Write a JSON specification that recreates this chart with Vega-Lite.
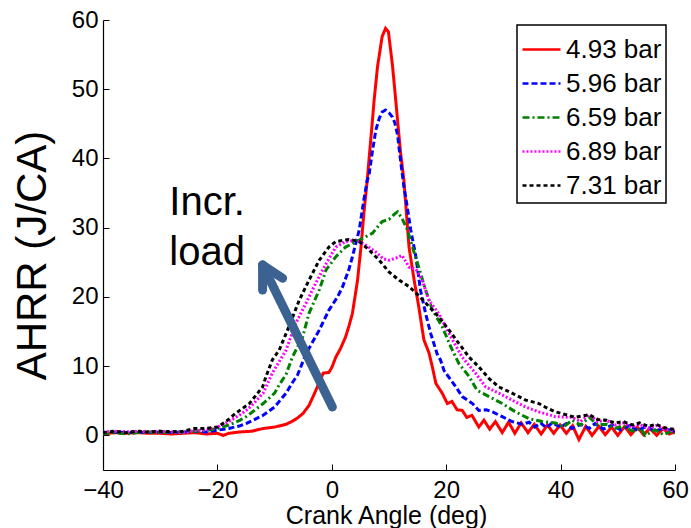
{
  "$schema": "https://vega.github.io/schema/vega-lite/v6.json",
  "width": 572,
  "height": 450,
  "autosize": {"type": "none"},
  "padding": {"left": 103, "top": 20, "right": 16, "bottom": 58},
  "background": "white",
  "config": {
    "font": "Liberation Sans",
    "view": {"stroke": null},
    "axis": {
      "domainColor": "black",
      "domainWidth": 1.2,
      "tickColor": "black",
      "tickSize": -6,
      "grid": false,
      "labelColor": "black",
      "labelFontSize": 24,
      "labelFont": "Liberation Sans",
      "titleFont": "Liberation Sans",
      "titleFontWeight": "normal",
      "titleColor": "black"
    },
    "legend": {
      "orient": "none",
      "legendX": 414,
      "legendY": 5,
      "strokeColor": "black",
      "strokeWidth": 1.5,
      "fillColor": "white",
      "padding": 4,
      "symbolType": "stroke",
      "symbolSize": 1444,
      "symbolStrokeWidth": 2.5,
      "labelFontSize": 26,
      "labelFont": "Liberation Sans",
      "labelColor": "black",
      "labelOffset": 4,
      "rowPadding": -1
    }
  },
  "datasets": {
    "curves": [
      {"s": "4.93 bar", "x": -40, "y": 0.2}, {"s": "4.93 bar", "x": -38, "y": 0.4}, {"s": "4.93 bar", "x": -36, "y": 0.3}, {"s": "4.93 bar", "x": -34, "y": 0.4}, {"s": "4.93 bar", "x": -32, "y": 0.3}, {"s": "4.93 bar", "x": -30, "y": 0.3}, {"s": "4.93 bar", "x": -28, "y": 0.2}, {"s": "4.93 bar", "x": -26, "y": 0.3}, {"s": "4.93 bar", "x": -24, "y": 0.4}, {"s": "4.93 bar", "x": -22, "y": 0.2}, {"s": "4.93 bar", "x": -20, "y": 0.3}, {"s": "4.93 bar", "x": -19, "y": 0.0}, {"s": "4.93 bar", "x": -18, "y": 0.3}, {"s": "4.93 bar", "x": -16, "y": 0.5}, {"s": "4.93 bar", "x": -14, "y": 0.6}, {"s": "4.93 bar", "x": -12, "y": 1.0}, {"s": "4.93 bar", "x": -10, "y": 1.2}, {"s": "4.93 bar", "x": -8, "y": 1.6}, {"s": "4.93 bar", "x": -7, "y": 2.0}, {"s": "4.93 bar", "x": -6, "y": 2.5}, {"s": "4.93 bar", "x": -5, "y": 3.2}, {"s": "4.93 bar", "x": -4, "y": 4.3}, {"s": "4.93 bar", "x": -3, "y": 6.1}, {"s": "4.93 bar", "x": -2, "y": 8.0}, {"s": "4.93 bar", "x": -1.5, "y": 9.0}, {"s": "4.93 bar", "x": -0.5, "y": 9.1}, {"s": "4.93 bar", "x": 0, "y": 9.8}, {"s": "4.93 bar", "x": 0.7, "y": 11.3}, {"s": "4.93 bar", "x": 1.5, "y": 12.5}, {"s": "4.93 bar", "x": 2.4, "y": 14.2}, {"s": "4.93 bar", "x": 3.0, "y": 15.8}, {"s": "4.93 bar", "x": 3.6, "y": 17.6}, {"s": "4.93 bar", "x": 4.5, "y": 22.4}, {"s": "4.93 bar", "x": 5.1, "y": 27.2}, {"s": "4.93 bar", "x": 5.6, "y": 32}, {"s": "4.93 bar", "x": 6.2, "y": 36.9}, {"s": "4.93 bar", "x": 6.5, "y": 39.8}, {"s": "4.93 bar", "x": 7.0, "y": 44.5}, {"s": "4.93 bar", "x": 7.4, "y": 48.4}, {"s": "4.93 bar", "x": 8.0, "y": 53.3}, {"s": "4.93 bar", "x": 8.8, "y": 57.6}, {"s": "4.93 bar", "x": 9.4, "y": 58.8}, {"s": "4.93 bar", "x": 9.9, "y": 58.3}, {"s": "4.93 bar", "x": 10.6, "y": 53.5}, {"s": "4.93 bar", "x": 11.0, "y": 50.0}, {"s": "4.93 bar", "x": 11.5, "y": 45.5}, {"s": "4.93 bar", "x": 12.0, "y": 41.0}, {"s": "4.93 bar", "x": 12.6, "y": 36.9}, {"s": "4.93 bar", "x": 13.5, "y": 27.2}, {"s": "4.93 bar", "x": 14.4, "y": 22.4}, {"s": "4.93 bar", "x": 15.2, "y": 18.6}, {"s": "4.93 bar", "x": 16.1, "y": 13.8}, {"s": "4.93 bar", "x": 17.0, "y": 11.9}, {"s": "4.93 bar", "x": 17.6, "y": 9.8}, {"s": "4.93 bar", "x": 18.2, "y": 7.5}, {"s": "4.93 bar", "x": 19.3, "y": 6.1}, {"s": "4.93 bar", "x": 20.2, "y": 4.6}, {"s": "4.93 bar", "x": 21.0, "y": 4.9}, {"s": "4.93 bar", "x": 21.9, "y": 3.7}, {"s": "4.93 bar", "x": 22.8, "y": 3.6}, {"s": "4.93 bar", "x": 23.6, "y": 2.6}, {"s": "4.93 bar", "x": 24.5, "y": 2.9}, {"s": "4.93 bar", "x": 25.7, "y": 1.2}, {"s": "4.93 bar", "x": 26.6, "y": 2.2}, {"s": "4.93 bar", "x": 27.6, "y": 0.9}, {"s": "4.93 bar", "x": 28.6, "y": 2.0}, {"s": "4.93 bar", "x": 29.8, "y": 0.4}, {"s": "4.93 bar", "x": 30.9, "y": 1.9}, {"s": "4.93 bar", "x": 32.0, "y": 0.3}, {"s": "4.93 bar", "x": 33.1, "y": 1.8}, {"s": "4.93 bar", "x": 34.3, "y": 0.4}, {"s": "4.93 bar", "x": 35.4, "y": 1.6}, {"s": "4.93 bar", "x": 36.6, "y": 0.2}, {"s": "4.93 bar", "x": 37.7, "y": 1.5}, {"s": "4.93 bar", "x": 38.8, "y": 0.3}, {"s": "4.93 bar", "x": 39.9, "y": 1.5}, {"s": "4.93 bar", "x": 41.0, "y": 0.3}, {"s": "4.93 bar", "x": 42.1, "y": 1.4}, {"s": "4.93 bar", "x": 43.2, "y": -0.6}, {"s": "4.93 bar", "x": 44.4, "y": 1.3}, {"s": "4.93 bar", "x": 45.5, "y": 0.0}, {"s": "4.93 bar", "x": 46.7, "y": 1.3}, {"s": "4.93 bar", "x": 47.8, "y": 0.1}, {"s": "4.93 bar", "x": 48.9, "y": 1.2}, {"s": "4.93 bar", "x": 50.0, "y": 0.0}, {"s": "4.93 bar", "x": 51.2, "y": 1.3}, {"s": "4.93 bar", "x": 52.3, "y": 0.1}, {"s": "4.93 bar", "x": 53.4, "y": 1.2}, {"s": "4.93 bar", "x": 54.5, "y": 0.1}, {"s": "4.93 bar", "x": 55.6, "y": 1.0}, {"s": "4.93 bar", "x": 56.8, "y": 0.0}, {"s": "4.93 bar", "x": 57.9, "y": 1.0}, {"s": "4.93 bar", "x": 59.0, "y": 0.2}, {"s": "4.93 bar", "x": 60, "y": 0.5},

      {"s": "5.96 bar", "x": -40, "y": 0.3}, {"s": "5.96 bar", "x": -38, "y": 0.5}, {"s": "5.96 bar", "x": -36, "y": 0.4}, {"s": "5.96 bar", "x": -34, "y": 0.5}, {"s": "5.96 bar", "x": -32, "y": 0.4}, {"s": "5.96 bar", "x": -30, "y": 0.5}, {"s": "5.96 bar", "x": -28, "y": 0.4}, {"s": "5.96 bar", "x": -26, "y": 0.5}, {"s": "5.96 bar", "x": -24, "y": 0.6}, {"s": "5.96 bar", "x": -22, "y": 0.5}, {"s": "5.96 bar", "x": -20, "y": 0.75}, {"s": "5.96 bar", "x": -18, "y": 1.0}, {"s": "5.96 bar", "x": -16, "y": 1.4}, {"s": "5.96 bar", "x": -15, "y": 1.7}, {"s": "5.96 bar", "x": -14, "y": 2.1}, {"s": "5.96 bar", "x": -12, "y": 2.9}, {"s": "5.96 bar", "x": -10, "y": 4.1}, {"s": "5.96 bar", "x": -8, "y": 6.1}, {"s": "5.96 bar", "x": -6.9, "y": 7.6}, {"s": "5.96 bar", "x": -6, "y": 8.7}, {"s": "5.96 bar", "x": -4.5, "y": 11.8}, {"s": "5.96 bar", "x": -2.2, "y": 15.2}, {"s": "5.96 bar", "x": -0.5, "y": 18.1}, {"s": "5.96 bar", "x": 1.0, "y": 20.0}, {"s": "5.96 bar", "x": 1.9, "y": 21.5}, {"s": "5.96 bar", "x": 3.0, "y": 24.0}, {"s": "5.96 bar", "x": 3.6, "y": 25.8}, {"s": "5.96 bar", "x": 4.8, "y": 29.7}, {"s": "5.96 bar", "x": 5.6, "y": 34}, {"s": "5.96 bar", "x": 6.2, "y": 36.9}, {"s": "5.96 bar", "x": 6.5, "y": 37.5}, {"s": "5.96 bar", "x": 7.0, "y": 40.5}, {"s": "5.96 bar", "x": 7.7, "y": 44.1}, {"s": "5.96 bar", "x": 8.3, "y": 45.8}, {"s": "5.96 bar", "x": 8.8, "y": 46.7}, {"s": "5.96 bar", "x": 9.4, "y": 47.0}, {"s": "5.96 bar", "x": 10.0, "y": 46.6}, {"s": "5.96 bar", "x": 10.6, "y": 46.0}, {"s": "5.96 bar", "x": 11.0, "y": 45.2}, {"s": "5.96 bar", "x": 11.5, "y": 43.4}, {"s": "5.96 bar", "x": 11.8, "y": 41.2}, {"s": "5.96 bar", "x": 12.6, "y": 35.9}, {"s": "5.96 bar", "x": 13.0, "y": 34.0}, {"s": "5.96 bar", "x": 13.8, "y": 29.7}, {"s": "5.96 bar", "x": 14.7, "y": 25.8}, {"s": "5.96 bar", "x": 15.5, "y": 21}, {"s": "5.96 bar", "x": 16.4, "y": 17.6}, {"s": "5.96 bar", "x": 17.3, "y": 14.7}, {"s": "5.96 bar", "x": 18.4, "y": 11.8}, {"s": "5.96 bar", "x": 19.0, "y": 10.9}, {"s": "5.96 bar", "x": 19.6, "y": 9.4}, {"s": "5.96 bar", "x": 20.2, "y": 8.7}, {"s": "5.96 bar", "x": 21.7, "y": 7.0}, {"s": "5.96 bar", "x": 22.8, "y": 5.6}, {"s": "5.96 bar", "x": 24.6, "y": 4.6}, {"s": "5.96 bar", "x": 25.7, "y": 3.6}, {"s": "5.96 bar", "x": 27.0, "y": 3.7}, {"s": "5.96 bar", "x": 28.1, "y": 3.4}, {"s": "5.96 bar", "x": 29.8, "y": 2.7}, {"s": "5.96 bar", "x": 31.5, "y": 2.0}, {"s": "5.96 bar", "x": 33.3, "y": 1.6}, {"s": "5.96 bar", "x": 34.5, "y": 1.9}, {"s": "5.96 bar", "x": 35.5, "y": 1.2}, {"s": "5.96 bar", "x": 36.5, "y": 1.8}, {"s": "5.96 bar", "x": 37.5, "y": 1.1}, {"s": "5.96 bar", "x": 38.5, "y": 1.8}, {"s": "5.96 bar", "x": 40, "y": 1.2}, {"s": "5.96 bar", "x": 41, "y": 1.7}, {"s": "5.96 bar", "x": 42, "y": 1.0}, {"s": "5.96 bar", "x": 43.5, "y": 1.6}, {"s": "5.96 bar", "x": 45, "y": 1.0}, {"s": "5.96 bar", "x": 46, "y": 1.7}, {"s": "5.96 bar", "x": 47.5, "y": 0.9}, {"s": "5.96 bar", "x": 49, "y": 1.5}, {"s": "5.96 bar", "x": 50.5, "y": 0.8}, {"s": "5.96 bar", "x": 52, "y": 1.4}, {"s": "5.96 bar", "x": 53.5, "y": 0.7}, {"s": "5.96 bar", "x": 55, "y": 1.3}, {"s": "5.96 bar", "x": 56.5, "y": 0.6}, {"s": "5.96 bar", "x": 58, "y": 1.1}, {"s": "5.96 bar", "x": 60, "y": 0.5},

      {"s": "6.59 bar", "x": -40, "y": 0.3}, {"s": "6.59 bar", "x": -38, "y": 0.4}, {"s": "6.59 bar", "x": -36, "y": 0.2}, {"s": "6.59 bar", "x": -34, "y": 0.4}, {"s": "6.59 bar", "x": -32, "y": 0.5}, {"s": "6.59 bar", "x": -30, "y": 0.4}, {"s": "6.59 bar", "x": -28, "y": 0.5}, {"s": "6.59 bar", "x": -26, "y": 0.4}, {"s": "6.59 bar", "x": -24, "y": 0.6}, {"s": "6.59 bar", "x": -22, "y": 0.7}, {"s": "6.59 bar", "x": -20, "y": 1.0}, {"s": "6.59 bar", "x": -18, "y": 1.5}, {"s": "6.59 bar", "x": -16, "y": 2.2}, {"s": "6.59 bar", "x": -15, "y": 2.7}, {"s": "6.59 bar", "x": -14, "y": 3.3}, {"s": "6.59 bar", "x": -12, "y": 4.6}, {"s": "6.59 bar", "x": -10, "y": 6.1}, {"s": "6.59 bar", "x": -9.2, "y": 7.3}, {"s": "6.59 bar", "x": -8, "y": 8.8}, {"s": "6.59 bar", "x": -6.9, "y": 11.3}, {"s": "6.59 bar", "x": -5.1, "y": 14.2}, {"s": "6.59 bar", "x": -4.0, "y": 17.6}, {"s": "6.59 bar", "x": -2.2, "y": 21}, {"s": "6.59 bar", "x": -1.0, "y": 23.9}, {"s": "6.59 bar", "x": 0.7, "y": 25.8}, {"s": "6.59 bar", "x": 2.4, "y": 27.2}, {"s": "6.59 bar", "x": 4.8, "y": 28.2}, {"s": "6.59 bar", "x": 7.1, "y": 29.2}, {"s": "6.59 bar", "x": 8.8, "y": 30.9}, {"s": "6.59 bar", "x": 10, "y": 31.2}, {"s": "6.59 bar", "x": 11.0, "y": 32.0}, {"s": "6.59 bar", "x": 11.5, "y": 32.3}, {"s": "6.59 bar", "x": 12.3, "y": 31.3}, {"s": "6.59 bar", "x": 13.2, "y": 29.7}, {"s": "6.59 bar", "x": 14.1, "y": 27.2}, {"s": "6.59 bar", "x": 15.2, "y": 24.3}, {"s": "6.59 bar", "x": 16.4, "y": 21}, {"s": "6.59 bar", "x": 17.6, "y": 18.1}, {"s": "6.59 bar", "x": 19.3, "y": 15.7}, {"s": "6.59 bar", "x": 20.8, "y": 12.8}, {"s": "6.59 bar", "x": 22.2, "y": 10.4}, {"s": "6.59 bar", "x": 24.0, "y": 8.5}, {"s": "6.59 bar", "x": 25.4, "y": 6.5}, {"s": "6.59 bar", "x": 27.5, "y": 5.6}, {"s": "6.59 bar", "x": 29.8, "y": 4.6}, {"s": "6.59 bar", "x": 32.1, "y": 3.4}, {"s": "6.59 bar", "x": 34.5, "y": 2.4}, {"s": "6.59 bar", "x": 36.8, "y": 2.0}, {"s": "6.59 bar", "x": 39.1, "y": 1.8}, {"s": "6.59 bar", "x": 40.5, "y": 1.2}, {"s": "6.59 bar", "x": 42, "y": 2.2}, {"s": "6.59 bar", "x": 43.5, "y": 1.5}, {"s": "6.59 bar", "x": 45, "y": 2.6}, {"s": "6.59 bar", "x": 46.5, "y": 1.5}, {"s": "6.59 bar", "x": 48, "y": 1.6}, {"s": "6.59 bar", "x": 49.5, "y": 1.0}, {"s": "6.59 bar", "x": 50.9, "y": 1.4}, {"s": "6.59 bar", "x": 52.5, "y": 0.6}, {"s": "6.59 bar", "x": 54, "y": 1.0}, {"s": "6.59 bar", "x": 54.8, "y": 0.0}, {"s": "6.59 bar", "x": 56.5, "y": 0.8}, {"s": "6.59 bar", "x": 58, "y": 0.1}, {"s": "6.59 bar", "x": 59.4, "y": 0.6}, {"s": "6.59 bar", "x": 60, "y": 0.3},

      {"s": "6.89 bar", "x": -40, "y": 0.5}, {"s": "6.89 bar", "x": -38, "y": 0.6}, {"s": "6.89 bar", "x": -36, "y": 0.5}, {"s": "6.89 bar", "x": -34, "y": 0.6}, {"s": "6.89 bar", "x": -32, "y": 0.5}, {"s": "6.89 bar", "x": -30, "y": 0.6}, {"s": "6.89 bar", "x": -28, "y": 0.5}, {"s": "6.89 bar", "x": -26, "y": 0.4}, {"s": "6.89 bar", "x": -24, "y": 0.7}, {"s": "6.89 bar", "x": -22, "y": 0.8}, {"s": "6.89 bar", "x": -20, "y": 1.2}, {"s": "6.89 bar", "x": -18, "y": 2.0}, {"s": "6.89 bar", "x": -16, "y": 3.0}, {"s": "6.89 bar", "x": -15, "y": 3.6}, {"s": "6.89 bar", "x": -14, "y": 4.3}, {"s": "6.89 bar", "x": -12, "y": 6.1}, {"s": "6.89 bar", "x": -10.4, "y": 9}, {"s": "6.89 bar", "x": -8.0, "y": 12.3}, {"s": "6.89 bar", "x": -6.3, "y": 16.2}, {"s": "6.89 bar", "x": -4.5, "y": 19.1}, {"s": "6.89 bar", "x": -2.8, "y": 22}, {"s": "6.89 bar", "x": -1, "y": 24.8}, {"s": "6.89 bar", "x": 0.7, "y": 27.2}, {"s": "6.89 bar", "x": 2.4, "y": 28}, {"s": "6.89 bar", "x": 4.2, "y": 28.2}, {"s": "6.89 bar", "x": 5.9, "y": 27.5}, {"s": "6.89 bar", "x": 7.7, "y": 26.5}, {"s": "6.89 bar", "x": 9, "y": 25.5}, {"s": "6.89 bar", "x": 10, "y": 25.3}, {"s": "6.89 bar", "x": 11.2, "y": 25.6}, {"s": "6.89 bar", "x": 12.3, "y": 26}, {"s": "6.89 bar", "x": 13.5, "y": 24.3}, {"s": "6.89 bar", "x": 14.7, "y": 24}, {"s": "6.89 bar", "x": 15.8, "y": 22.4}, {"s": "6.89 bar", "x": 17, "y": 19.5}, {"s": "6.89 bar", "x": 18.7, "y": 17.6}, {"s": "6.89 bar", "x": 20.5, "y": 14.7}, {"s": "6.89 bar", "x": 22.8, "y": 11.3}, {"s": "6.89 bar", "x": 25.2, "y": 8.9}, {"s": "6.89 bar", "x": 26.9, "y": 7.0}, {"s": "6.89 bar", "x": 29.2, "y": 6.1}, {"s": "6.89 bar", "x": 31.5, "y": 5.1}, {"s": "6.89 bar", "x": 33.9, "y": 4.1}, {"s": "6.89 bar", "x": 36.2, "y": 3.4}, {"s": "6.89 bar", "x": 39.1, "y": 2.7}, {"s": "6.89 bar", "x": 42, "y": 2.6}, {"s": "6.89 bar", "x": 43.5, "y": 2.0}, {"s": "6.89 bar", "x": 45, "y": 3.0}, {"s": "6.89 bar", "x": 46.5, "y": 2.0}, {"s": "6.89 bar", "x": 48, "y": 2.2}, {"s": "6.89 bar", "x": 49.5, "y": 1.5}, {"s": "6.89 bar", "x": 50.9, "y": 1.8}, {"s": "6.89 bar", "x": 52.5, "y": 1.2}, {"s": "6.89 bar", "x": 53.8, "y": 1.6}, {"s": "6.89 bar", "x": 55.3, "y": 1.0}, {"s": "6.89 bar", "x": 56.7, "y": 1.4}, {"s": "6.89 bar", "x": 58, "y": 0.9}, {"s": "6.89 bar", "x": 59.6, "y": 0.7}, {"s": "6.89 bar", "x": 60, "y": 0.8},

      {"s": "7.31 bar", "x": -40, "y": 0.4}, {"s": "7.31 bar", "x": -38, "y": 0.6}, {"s": "7.31 bar", "x": -36, "y": 0.4}, {"s": "7.31 bar", "x": -34, "y": 0.6}, {"s": "7.31 bar", "x": -32, "y": 0.5}, {"s": "7.31 bar", "x": -30, "y": 0.6}, {"s": "7.31 bar", "x": -28, "y": 0.5}, {"s": "7.31 bar", "x": -26, "y": 0.6}, {"s": "7.31 bar", "x": -24, "y": 1.0}, {"s": "7.31 bar", "x": -22, "y": 1.0}, {"s": "7.31 bar", "x": -20, "y": 1.2}, {"s": "7.31 bar", "x": -18.5, "y": 2.0}, {"s": "7.31 bar", "x": -16.8, "y": 3.2}, {"s": "7.31 bar", "x": -14.4, "y": 4.6}, {"s": "7.31 bar", "x": -12.1, "y": 7.0}, {"s": "7.31 bar", "x": -11.5, "y": 8.5}, {"s": "7.31 bar", "x": -10.4, "y": 10.9}, {"s": "7.31 bar", "x": -9.2, "y": 12.3}, {"s": "7.31 bar", "x": -7.5, "y": 15.7}, {"s": "7.31 bar", "x": -5.7, "y": 19.5}, {"s": "7.31 bar", "x": -4.0, "y": 22.4}, {"s": "7.31 bar", "x": -2.2, "y": 25.3}, {"s": "7.31 bar", "x": -0.5, "y": 27.2}, {"s": "7.31 bar", "x": 0.7, "y": 28}, {"s": "7.31 bar", "x": 3.0, "y": 28.3}, {"s": "7.31 bar", "x": 4.8, "y": 28}, {"s": "7.31 bar", "x": 6.5, "y": 26.8}, {"s": "7.31 bar", "x": 8.3, "y": 25.3}, {"s": "7.31 bar", "x": 10, "y": 23.6}, {"s": "7.31 bar", "x": 11.8, "y": 22.4}, {"s": "7.31 bar", "x": 13.5, "y": 21.5}, {"s": "7.31 bar", "x": 15.2, "y": 20.2}, {"s": "7.31 bar", "x": 17, "y": 18.6}, {"s": "7.31 bar", "x": 18.7, "y": 17.1}, {"s": "7.31 bar", "x": 20.5, "y": 15.2}, {"s": "7.31 bar", "x": 22.2, "y": 13.3}, {"s": "7.31 bar", "x": 24, "y": 11.3}, {"s": "7.31 bar", "x": 25.7, "y": 9.9}, {"s": "7.31 bar", "x": 27.5, "y": 8.2}, {"s": "7.31 bar", "x": 29.2, "y": 7.0}, {"s": "7.31 bar", "x": 31.5, "y": 6.1}, {"s": "7.31 bar", "x": 33.9, "y": 5.1}, {"s": "7.31 bar", "x": 36.2, "y": 4.6}, {"s": "7.31 bar", "x": 37.5, "y": 4.0}, {"s": "7.31 bar", "x": 39.1, "y": 3.4}, {"s": "7.31 bar", "x": 40.9, "y": 3.0}, {"s": "7.31 bar", "x": 42.5, "y": 2.6}, {"s": "7.31 bar", "x": 45, "y": 3.0}, {"s": "7.31 bar", "x": 46.5, "y": 2.3}, {"s": "7.31 bar", "x": 48, "y": 2.2}, {"s": "7.31 bar", "x": 49.5, "y": 1.8}, {"s": "7.31 bar", "x": 50.9, "y": 2.0}, {"s": "7.31 bar", "x": 52.5, "y": 1.5}, {"s": "7.31 bar", "x": 53.8, "y": 1.8}, {"s": "7.31 bar", "x": 55.3, "y": 1.3}, {"s": "7.31 bar", "x": 56.7, "y": 1.6}, {"s": "7.31 bar", "x": 58.2, "y": 1.1}, {"s": "7.31 bar", "x": 59.6, "y": 0.9}, {"s": "7.31 bar", "x": 60, "y": 1.0}
    ],
    "arrow": [
      {"part": "shaft", "x": 0.1, "y": 4.1, "x2": -12.1, "y2": 24.6},
      {"part": "barb1", "x": -12.1, "y": 24.6, "x2": -12.1, "y2": 21.0},
      {"part": "barb2", "x": -12.1, "y": 24.6, "x2": -8.6, "y2": 22.7}
    ],
    "labels": [
      {"t": "Incr.", "x": -28.4, "y": 31.8},
      {"t": "load", "x": -28.4, "y": 24.6}
    ]
  },
  "layer": [
    {
      "data": {"name": "curves"},
      "mark": {"type": "line", "strokeWidth": 3, "clip": true},
      "encoding": {
        "x": {
          "field": "x", "type": "quantitative",
          "scale": {"domain": [-40, 60], "nice": false, "zero": false},
          "axis": {"values": [-40, -20, 0, 20, 40, 60], "title": "Crank Angle (deg)", "titleFontSize": 25, "labelPadding": 14, "titleX": 283, "titleY": 53, "titleBaseline": "alphabetic", "labelFlush": false}
        },
        "y": {
          "field": "y", "type": "quantitative",
          "scale": {"domain": [-5, 60], "nice": false, "zero": false},
          "axis": {"values": [0, 10, 20, 30, 40, 50, 60], "title": "AHRR (J/CA)", "titleFontSize": 42, "labelPadding": 11, "titleX": -58, "titleY": 235, "titleBaseline": "alphabetic", "titleAngle": 270, "labelFlush": false}
        },
        "color": {
          "field": "s", "type": "nominal", "title": null,
          "scale": {"domain": ["4.93 bar", "5.96 bar", "6.59 bar", "6.89 bar", "7.31 bar"], "range": ["#ff0000", "#0000ff", "#008000", "#ff00ff", "#000000"]}
        },
        "strokeDash": {
          "field": "s", "type": "nominal", "title": null,
          "scale": {"domain": ["4.93 bar", "5.96 bar", "6.59 bar", "6.89 bar", "7.31 bar"], "range": [[1, 0], [6, 3], [7, 3, 2, 3], [2, 2], [4, 3]]}
        }
      }
    },
    {
      "data": {"name": "arrow"},
      "mark": {"type": "rule", "color": "#3b6290", "strokeWidth": 9, "strokeCap": "round"},
      "encoding": {
        "x": {"field": "x", "type": "quantitative"},
        "y": {"field": "y", "type": "quantitative"},
        "x2": {"field": "x2"},
        "y2": {"field": "y2"}
      }
    },
    {
      "data": {"name": "labels"},
      "mark": {"type": "text", "fontSize": 40, "align": "left", "baseline": "alphabetic", "color": "black", "font": "Liberation Sans"},
      "encoding": {
        "x": {"field": "x", "type": "quantitative"},
        "y": {"field": "y", "type": "quantitative"},
        "text": {"field": "t"}
      }
    }
  ]
}
